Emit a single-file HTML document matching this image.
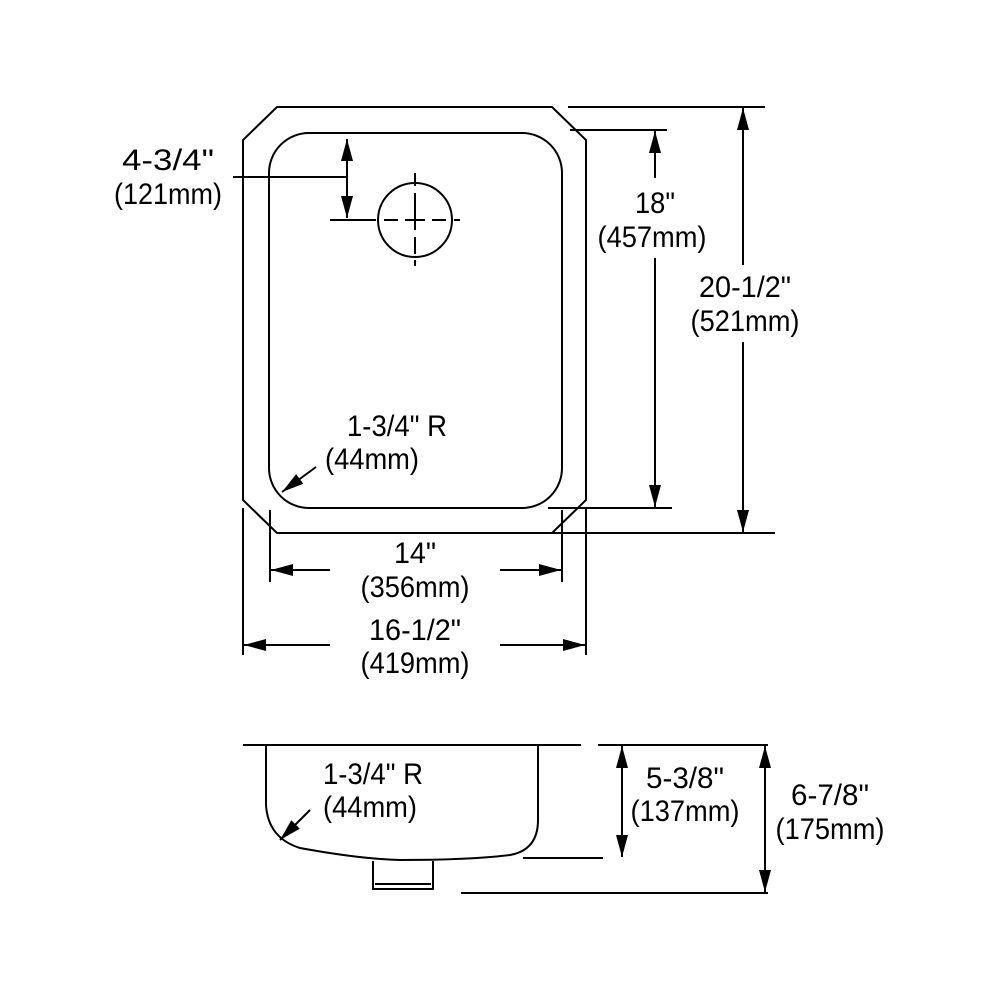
<!DOCTYPE html>
<html><head><style>body{margin:0;background:#fff}svg{display:block}text{font-family:"Liberation Sans",Arial,sans-serif;font-size:30px;fill:#000;text-anchor:middle}</style></head>
<body>
<svg width="1000" height="1000" viewBox="0 0 1000 1000" xmlns="http://www.w3.org/2000/svg">
<defs>
<marker id="a" viewBox="0 0 22 12" refX="22" refY="6" markerWidth="22" markerHeight="12" markerUnits="userSpaceOnUse" orient="auto"><path d="M0,0L22,6L0,12z" fill="#000"/></marker>
</defs>
<g fill="none" stroke="#000" stroke-width="2">
<path d="M277,107H552L586,140V500L552,533H277L243,500V140Z"/>
<rect x="269" y="133" width="293" height="375" rx="40" ry="40"/>
<circle cx="415" cy="220" r="37"/>
<path d="M330,220H376M384,220H398M405,220H425M432,220H446M454,220H460M415,173V186M415,193V210M415,210V230M415,237V254M415,260V266" />
<path d="M233,177H347M347,177V139" marker-end="url(#a)"/>
<path d="M347,177V218" marker-end="url(#a)"/>
<path d="M316,467L282,492" marker-end="url(#a)"/>
<path d="M570,130H667M548,508H672M568,107H765M548,533H775"/>
<path d="M655,178V131" marker-end="url(#a)"/>
<path d="M655,258V507" marker-end="url(#a)"/>
<path d="M743,265V108" marker-end="url(#a)"/>
<path d="M743,342V532" marker-end="url(#a)"/>
<path d="M270,510V582M562,510V582M243,508V655M586,508V655"/>
<path d="M330,570H271" marker-end="url(#a)"/>
<path d="M500,570H561" marker-end="url(#a)"/>
<path d="M330,645H244" marker-end="url(#a)"/>
<path d="M500,645H585" marker-end="url(#a)"/>
<path d="M243,745H581"/>
<path d="M266,745V805Q268,838 300,848Q360,859 400,860Q470,860 510,855Q538,850 538,820V745"/>
<path d="M373,861V889H433V861M375,884H431"/>
<path d="M598,745H768M523,858H603M461,893H768"/>
<path d="M622,800V746" marker-end="url(#a)"/>
<path d="M622,800V857" marker-end="url(#a)"/>
<path d="M765,800V746" marker-end="url(#a)"/>
<path d="M765,800V892" marker-end="url(#a)"/>
<path d="M310,810L280,840" marker-end="url(#a)"/>
</g>
<text x="168" y="170" textLength="92" lengthAdjust="spacingAndGlyphs">4-3/4"</text>
<text x="168" y="204" textLength="108" lengthAdjust="spacingAndGlyphs">(121mm)</text>
<text x="655" y="213" textLength="40" lengthAdjust="spacingAndGlyphs">18"</text>
<text x="652" y="247" textLength="109" lengthAdjust="spacingAndGlyphs">(457mm)</text>
<text x="745" y="297" textLength="92" lengthAdjust="spacingAndGlyphs">20-1/2"</text>
<text x="745" y="331" textLength="109" lengthAdjust="spacingAndGlyphs">(521mm)</text>
<text x="397" y="436" textLength="100" lengthAdjust="spacingAndGlyphs">1-3/4" R</text>
<text x="372" y="469" textLength="94" lengthAdjust="spacingAndGlyphs">(44mm)</text>
<text x="415" y="563" textLength="42" lengthAdjust="spacingAndGlyphs">14"</text>
<text x="415" y="597" textLength="109" lengthAdjust="spacingAndGlyphs">(356mm)</text>
<text x="415" y="640" textLength="92" lengthAdjust="spacingAndGlyphs">16-1/2"</text>
<text x="415" y="673" textLength="109" lengthAdjust="spacingAndGlyphs">(419mm)</text>
<text x="373" y="784" textLength="100" lengthAdjust="spacingAndGlyphs">1-3/4" R</text>
<text x="370" y="817" textLength="94" lengthAdjust="spacingAndGlyphs">(44mm)</text>
<text x="685" y="788" textLength="78" lengthAdjust="spacingAndGlyphs">5-3/8"</text>
<text x="685" y="821" textLength="109" lengthAdjust="spacingAndGlyphs">(137mm)</text>
<text x="830" y="805" textLength="78" lengthAdjust="spacingAndGlyphs">6-7/8"</text>
<text x="830" y="839" textLength="109" lengthAdjust="spacingAndGlyphs">(175mm)</text>
</svg>
</body></html>
